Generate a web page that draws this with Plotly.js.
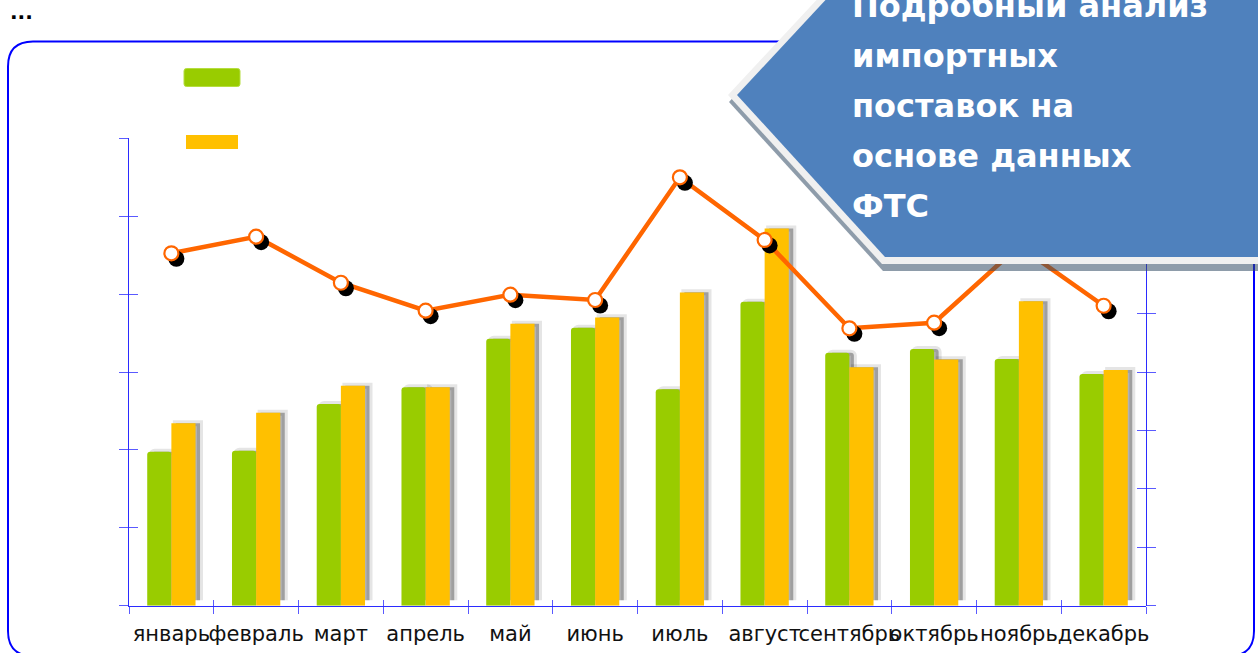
<!DOCTYPE html>
<html><head><meta charset="utf-8">
<script src="https://cdn.plot.ly/plotly-3.0.1.min.js"></script>
<style>html,body{margin:0;padding:0;background:#fff;overflow:hidden;} #chart{width:1258px;height:653px;}</style>
</head><body><div id="chart"></div>
<script>
// ---- data ----
const months = ['январь','февраль','март','апрель','май','июнь','июль','август','сентябрь','октябрь','ноябрь','декабрь'];
const seriesGreen = [197.6,198.9,258.9,280.3,342.7,356.8,277.7,390.1,324.7,329.4,316.6,297.4];
const seriesYellow = [234.1,247.7,282.3,280.3,361.9,370.1,402.2,484.3,306.0,316.2,390.7,302.5];
const seriesLine = [30.16,31.58,27.64,25.25,26.62,26.16,36.66,31.30,23.74,24.22,30.78,25.67];
const leftRange = [0, 600], leftTick = 100;
const rightRange = [0, 40], rightTick = 5;
const titleLines = ['Подробный анализ','импортных','поставок на','основе данных','ФТС'];
const ellipsisText = '...';

// ---- geometry helpers (pixel -> paper) ----
const W = 1258, H = 653, ML = 100, MR = 80, MT = 100, MB = 40;
const PW = W - ML - MR, PH = H - MT - MB;
const xp = px => (px - ML) / PW;
const yp = py => (H - MB - py) / PH;
const X0 = 129, X1 = 1146, Y0 = 605.7, Y1 = 138.3;
const mainX = [xp(X0), xp(X1)], mainY = [yp(Y0), yp(Y1)];
const shX = (d, dx) => [d[0] + dx / PW, d[1] + dx / PW];
const shY = (d, dy) => [d[0] - dy / PH, d[1] - dy / PH]; // dy>0 moves down

const GREEN = '#99CC00', YELLOW = '#FFC000', ORANGE = '#FF6600';
const AXLINE = '#2b2bff', AXTICK = '#5a5aff';

function cat(extra) {
  return Object.assign({type: 'category', categoryorder: 'array', categoryarray: months,
    range: [-0.5, 11.5], showgrid: false, zeroline: false, fixedrange: true}, extra);
}
function lin(extra) {
  return Object.assign({showgrid: false, zeroline: false, fixedrange: true, showticklabels: false}, extra);
}

const barShadowX = shX(mainX, 4.5), barShadowY = shY(mainY, -5.5);
const mkShadowX = shX(mainX, 5), mkShadowY = shY(mainY, 5.5);
const shadowBase = -7; // extends shadow down to the axis (style offset)

const traces = [
  // bar shadows
  {type: 'bar', x: months, y: seriesGreen, base: shadowBase, xaxis: 'x', yaxis: 'y',
   marker: {color: 'rgba(0,0,0,0.30)', cornerradius: 3, line: {color: 'rgba(0,0,0,0.10)', width: 6}}},
  {type: 'bar', x: months, y: seriesYellow, base: shadowBase, xaxis: 'x', yaxis: 'y',
   marker: {color: 'rgba(0,0,0,0.30)', line: {color: 'rgba(0,0,0,0.10)', width: 6}}},
  // bars
  {type: 'bar', x: months, y: seriesGreen, xaxis: 'x2', yaxis: 'y2',
   marker: {color: GREEN, cornerradius: 3, line: {width: 0}}},
  {type: 'bar', x: months, y: seriesYellow, xaxis: 'x2', yaxis: 'y2',
   marker: {color: YELLOW, line: {width: 0}}},
  // line
  {type: 'scatter', mode: 'lines', x: months, y: seriesLine, xaxis: 'x3', yaxis: 'y3',
   line: {color: ORANGE, width: 4.5}},
  // marker shadows
  {type: 'scatter', mode: 'markers', x: months, y: seriesLine, xaxis: 'x4', yaxis: 'y4',
   marker: {color: '#000', size: 16, line: {width: 0}}},
  // markers
  {type: 'scatter', mode: 'markers', x: months, y: seriesLine, xaxis: 'x5', yaxis: 'y5',
   marker: {color: '#fff', size: 14, line: {color: ORANGE, width: 2.2}}},
  // carrier for inner left ticks
  {type: 'scatter', mode: 'markers', x: [], y: [], xaxis: 'x6', yaxis: 'y6'}
];

const P = (x, y) => xp(x) + ',' + yp(y);
function poly(pts) { return 'M' + pts.map(p => P(p[0], p[1])).join('L') + 'Z'; }
function roundRect(x0, y0, x1, y1, r) {
  return 'M' + P(x0 + r, y0) + 'L' + P(x1 - r, y0) + 'Q' + P(x1, y0) + ' ' + P(x1, y0 + r) +
    'L' + P(x1, y1 - r) + 'Q' + P(x1, y1) + ' ' + P(x1 - r, y1) +
    'L' + P(x0 + r, y1) + 'Q' + P(x0, y1) + ' ' + P(x0, y1 - r) +
    'L' + P(x0, y0 + r) + 'Q' + P(x0, y0) + ' ' + P(x0 + r, y0) + 'Z';
}

const shapes = [
  {type: 'path', xref: 'paper', yref: 'paper', layer: 'below', path: roundRect(8, 41.5, 1254, 656, 25),
   line: {color: '#0000FF', width: 2}, fillcolor: 'rgba(0,0,0,0)'},
  // legend swatches
  {type: 'path', xref: 'paper', yref: 'paper', layer: 'above', path: roundRect(184, 68.5, 240, 86.5, 2.5),
   line: {color: '#b5dd40', width: 1}, fillcolor: GREEN},
  {type: 'path', xref: 'paper', yref: 'paper', layer: 'above', path: poly([[186,135],[238,135],[238,149],[186,149]]),
   line: {width: 0}, fillcolor: YELLOW},
  // callout box: shadow, light border, blue body
  {type: 'path', xref: 'paper', yref: 'paper', layer: 'above',
   path: poly([[729,102],[883,271],[1275,271],[1275,-80],[895,-80]]), line: {width: 0}, fillcolor: 'rgba(50,75,100,0.55)'},
  {type: 'path', xref: 'paper', yref: 'paper', layer: 'above',
   path: poly([[728,95],[882,264],[1275,264],[1275,-80],[891,-80]]), line: {width: 0}, fillcolor: '#F0F0F0'},
  {type: 'path', xref: 'paper', yref: 'paper', layer: 'above',
   path: poly([[737,95],[885,257],[1275,257],[1275,-80],[900,-80]]), line: {width: 0}, fillcolor: '#4F81BD'}
];

const TFS = 32;
const annotations = titleLines.map((t, i) => ({
  text: t, xref: 'paper', yref: 'paper', x: xp(851), y: yp(16.9 + 50 * i - 0.346 * TFS),
  xanchor: 'left', yanchor: 'middle', showarrow: false, borderpad: 0,
  font: {family: 'DejaVu Sans', size: TFS, color: '#ffffff', weight: 'bold'}
}));
annotations.push({text: ellipsisText, xref: 'paper', yref: 'paper', x: xp(9), y: yp(18.8 - 0.346 * 20),
  xanchor: 'left', yanchor: 'middle', showarrow: false, borderpad: 0,
  font: {family: 'DejaVu Sans', size: 20, color: '#000', weight: 'bold'}});

const layout = {
  width: W, height: H, margin: {l: ML, r: MR, t: MT, b: MB, pad: 0},
  paper_bgcolor: '#fff', plot_bgcolor: 'rgba(0,0,0,0)',
  showlegend: false, hovermode: false, barmode: 'group', bargap: 0.43, bargroupgap: 0,
  xaxis: cat({domain: barShadowX, anchor: 'y', visible: false}),
  yaxis: lin({domain: barShadowY, anchor: 'x', range: leftRange, visible: false}),
  xaxis2: cat({domain: mainX, anchor: 'y2', showline: true, linecolor: AXLINE, linewidth: 1,
    ticks: 'outside', ticklen: 7, tickwidth: 1, tickcolor: AXTICK, tickson: 'boundaries',
    tickangle: 0, ticklabelstandoff: 9, tickfont: {family: 'DejaVu Sans', size: 21, color: '#111'}}),
  yaxis2: lin({domain: mainY, anchor: 'x2', side: 'left', range: leftRange, dtick: leftTick, tick0: 0,
    showline: true, linecolor: AXLINE, linewidth: 1, ticks: 'outside', ticklen: 9, tickwidth: 1, tickcolor: AXTICK}),
  xaxis3: cat({domain: mainX, anchor: 'y3', showline: false, showticklabels: false,
    ticks: 'inside', ticklen: 6, tickwidth: 1, tickcolor: AXTICK, tickson: 'boundaries'}),
  yaxis3: lin({domain: mainY, anchor: 'x3', side: 'right', range: rightRange, dtick: rightTick, tick0: 0,
    showline: true, linecolor: AXLINE, linewidth: 1, ticks: 'outside', ticklen: 9, tickwidth: 1, tickcolor: AXTICK}),
  xaxis4: cat({domain: mkShadowX, anchor: 'y4', visible: false}),
  yaxis4: lin({domain: mkShadowY, anchor: 'x4', range: rightRange, visible: false}),
  xaxis5: cat({domain: mainX, anchor: 'y5', visible: false}),
  yaxis5: lin({domain: mainY, anchor: 'x5', side: 'right', range: rightRange, dtick: rightTick, tick0: 0,
    showline: false, ticks: 'inside', ticklen: 9, tickwidth: 1, tickcolor: AXTICK}),
  xaxis6: cat({domain: mainX, anchor: 'y6', visible: false}),
  yaxis6: lin({domain: mainY, anchor: 'x6', side: 'left', range: leftRange, dtick: leftTick, tick0: 0,
    showline: false, ticks: 'inside', ticklen: 9, tickwidth: 1, tickcolor: AXTICK}),
  shapes: shapes, annotations: annotations
};

Plotly.newPlot('chart', traces, layout, {staticPlot: true, displayModeBar: false});
</script>
</body></html>
